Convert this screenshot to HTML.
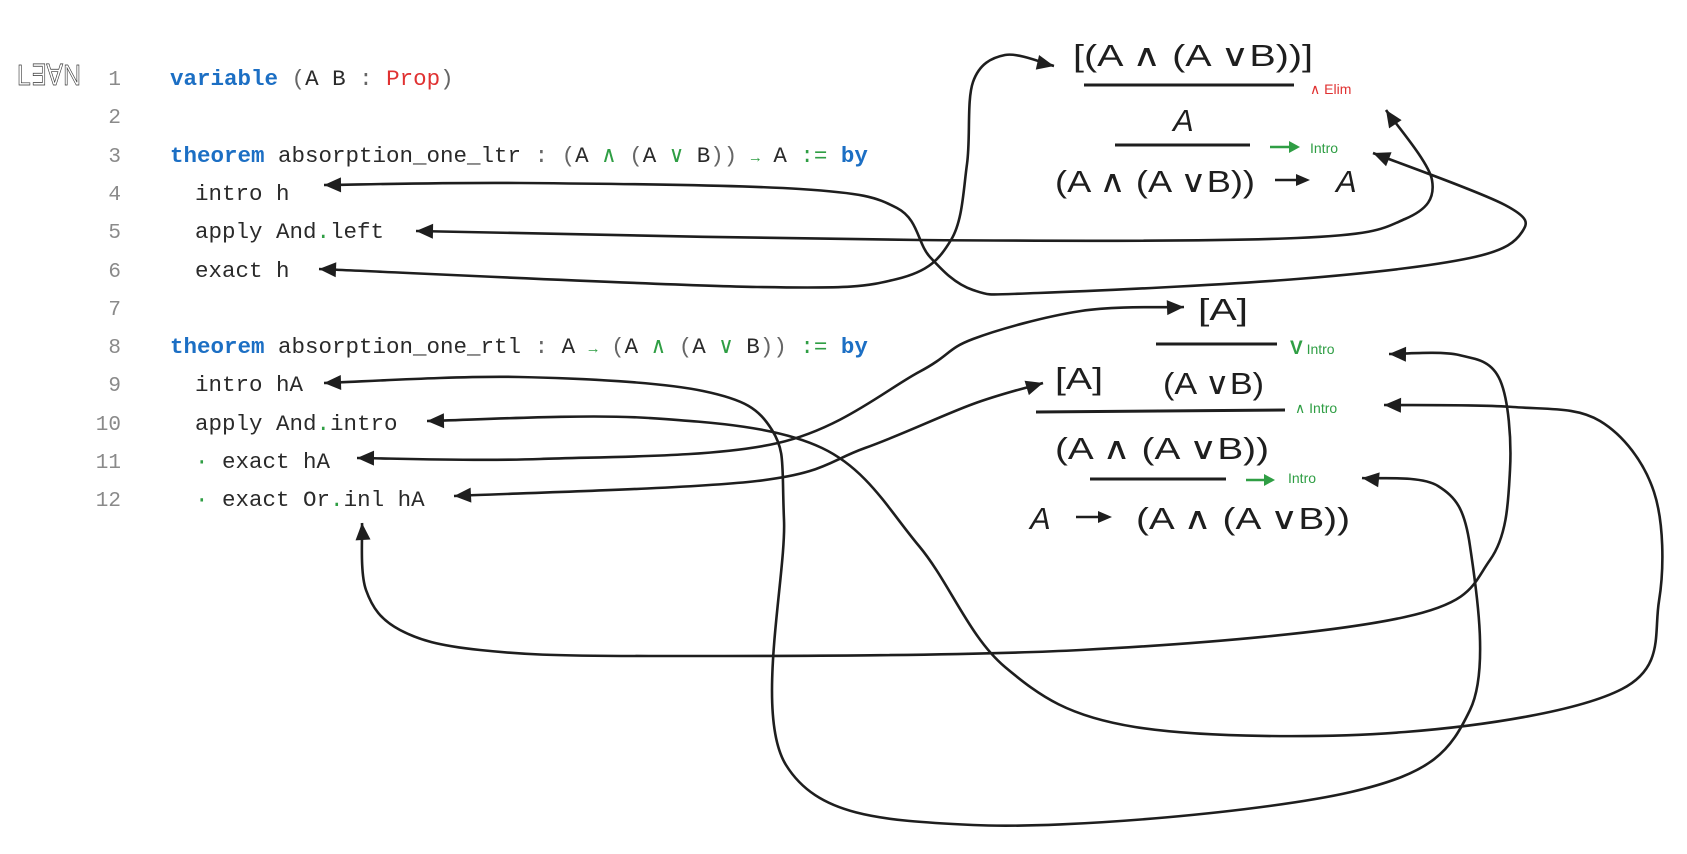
<!DOCTYPE html>
<html><head><meta charset="utf-8"><style>
html,body{margin:0;padding:0;background:#fff;}
svg{display:block;}
.code{font-family:"Liberation Mono",monospace;font-size:22.5px;fill:#2a2a2a;}
.ln{font-family:"Liberation Mono",monospace;font-size:21px;fill:#8a8a8a;}
.kw{fill:#1c6fc4;font-weight:bold;}
.g{fill:#2f9e44;}
.r{fill:#e03131;}
.p{fill:#666;}
.m{font-family:"Liberation Sans","DejaVu Sans",sans-serif;font-size:31px;fill:#1e1e1e;}
.sg{font-family:"Liberation Sans",sans-serif;font-size:14px;fill:#2f9e44;}
.sr{font-family:"Liberation Sans",sans-serif;font-size:14px;fill:#e03131;}
</style></head><body>
<svg id="s" width="1687" height="854" viewBox="0 0 1687 854" xmlns="http://www.w3.org/2000/svg">
<!-- logo -->
<text x="17" y="85" font-family="Liberation Sans,sans-serif" font-size="29" fill="none" stroke="#333" stroke-width="0.7" textLength="64" lengthAdjust="spacingAndGlyphs">L∃∀N</text>
<!-- line numbers -->
<g class="ln" text-anchor="end">
<text x="121" y="85">1</text><text x="121" y="123">2</text><text x="121" y="162">3</text><text x="121" y="200">4</text>
<text x="121" y="238">5</text><text x="121" y="277">6</text><text x="121" y="315">7</text><text x="121" y="353">8</text>
<text x="121" y="391">9</text><text x="121" y="430">10</text><text x="121" y="468">11</text><text x="121" y="506">12</text>
</g>
<g class="code" xml:space="preserve">
<text x="170" y="85"><tspan class="kw">variable</tspan> <tspan class="p">(</tspan>A B <tspan class="p">:</tspan> <tspan class="r">Prop</tspan><tspan class="p">)</tspan></text>
<text x="170" y="162"><tspan class="kw">theorem</tspan> absorption_one_ltr <tspan class="p">:</tspan> <tspan class="p">(</tspan>A <tspan class="g">∧</tspan> <tspan class="p">(</tspan>A <tspan class="g">∨</tspan> B<tspan class="p">))</tspan> <tspan class="g" font-size="15">→</tspan> A <tspan class="g">:=</tspan> <tspan class="kw">by</tspan></text>
<text x="195" y="200">intro h</text>
<text x="195" y="238">apply And<tspan class="g">.</tspan>left</text>
<text x="195" y="277">exact h</text>
<text x="170" y="353"><tspan class="kw">theorem</tspan> absorption_one_rtl <tspan class="p">:</tspan> A <tspan class="g" font-size="15">→</tspan> <tspan class="p">(</tspan>A <tspan class="g">∧</tspan> <tspan class="p">(</tspan>A <tspan class="g">∨</tspan> B<tspan class="p">))</tspan> <tspan class="g">:=</tspan> <tspan class="kw">by</tspan></text>
<text x="195" y="391">intro hA</text>
<text x="195" y="430">apply And<tspan class="g">.</tspan>intro</text>
<text x="195" y="468"><tspan class="g">·</tspan> exact hA</text>
<text x="195" y="506"><tspan class="g">·</tspan> exact Or<tspan class="g">.</tspan>inl hA</text>
</g>
<!-- proof tree -->
<g class="m">
<text x="1073" y="66" textLength="240" lengthAdjust="spacingAndGlyphs">[(A ∧ (A ∨B))]</text>
<text x="1173" y="131" font-style="italic">A</text>
<text x="1055" y="192" textLength="200" lengthAdjust="spacingAndGlyphs">(A ∧ (A ∨B))</text>
<text x="1336" y="192" font-style="italic">A</text>
<text x="1198" y="320" textLength="50" lengthAdjust="spacingAndGlyphs">[A]</text>
<text x="1055" y="389" textLength="48" lengthAdjust="spacingAndGlyphs">[A]</text>
<text x="1163" y="394" textLength="101" lengthAdjust="spacingAndGlyphs">(A ∨B)</text>
<text x="1055" y="459" textLength="214" lengthAdjust="spacingAndGlyphs">(A ∧ (A ∨B))</text>
<text x="1030" y="529" font-style="italic">A</text>
<text x="1136" y="529" textLength="214" lengthAdjust="spacingAndGlyphs">(A ∧ (A ∨B))</text>
</g>
<g stroke="#1e1e1e" stroke-width="3" fill="none">
<line x1="1084" y1="85" x2="1294" y2="85"/>
<line x1="1115" y1="145" x2="1250" y2="145"/>
<line x1="1156" y1="344" x2="1277" y2="344"/>
<line x1="1036" y1="412" x2="1285" y2="410"/>
<line x1="1090" y1="479" x2="1226" y2="479"/>
<line x1="1275" y1="180" x2="1298" y2="180" stroke-width="2.5"/>
<line x1="1076" y1="517" x2="1100" y2="517" stroke-width="2.5"/>
</g>
<polygon points="1310,180 1296,174 1296,186" fill="#1e1e1e"/>
<polygon points="1112,517 1098,511 1098,523" fill="#1e1e1e"/>
<g stroke="#2f9e44" stroke-width="2.5"><line x1="1270" y1="147" x2="1290" y2="147"/><line x1="1246" y1="480" x2="1265" y2="480"/></g>
<polygon points="1300,147 1289,141 1289,153" fill="#2f9e44"/>
<polygon points="1275,480 1264,474 1264,486" fill="#2f9e44"/>
<text class="sr" x="1310" y="94">∧ Elim</text>
<text class="sg" x="1310" y="153">Intro</text>
<text class="sg" x="1290" y="354"><tspan font-size="19" font-weight="bold">V</tspan> Intro</text>
<text class="sg" x="1295" y="413">∧ Intro</text>
<text class="sg" x="1288" y="483">Intro</text>
<g id="conn" stroke="#1e1e1e" stroke-width="2.6" fill="none"></g>
<g id="heads" fill="#1e1e1e"></g>
</svg>
<script>
var P=[
[[324,185],[520,183],[800,189],[897,208],[930,257],[973,290],[1038,293],[1297,279],[1470,258],[1522,232],[1505,205],[1373,153]],
[[416,231],[919,240],[1297,238],[1405,219],[1432,180],[1386,110]],
[[319,269],[757,287],[897,279],[951,240],[967,164],[973,82],[1005,55],[1054,66]],
[[324,383],[519,377],[703,391],[772,430],[784,520],[786,765],[973,825],[1351,792],[1470,710],[1470,546],[1438,486],[1362,478]],
[[427,421],[649,418],[822,448],[919,546],[1005,667],[1135,727],[1405,732],[1622,689],[1659,601],[1654,492],[1600,421],[1513,407],[1384,405]],
[[357,458],[540,459],[778,443],[919,372],[973,339],[1081,311],[1184,307]],
[[454,496],[757,481],[865,448],[973,404],[1043,383]],
[[362,523],[366,590],[400,630],[480,650],[649,656],[1081,650],[1405,617],[1490,560],[1510,470],[1500,380],[1459,355],[1389,354]]
];
var NS="http://www.w3.org/2000/svg",g=document.getElementById('conn'),h=document.getElementById('heads');
function head(tip,from){var dx=tip[0]-from[0],dy=tip[1]-from[1],l=Math.hypot(dx,dy);dx/=l;dy/=l;var L=17,W=7.5;
var bx=tip[0]-dx*L,by=tip[1]-dy*L;var p=document.createElementNS(NS,'polygon');
p.setAttribute('points',tip[0]+','+tip[1]+' '+(bx-dy*W)+','+(by+dx*W)+' '+(bx+dy*W)+','+(by-dx*W));h.appendChild(p);}
P.forEach(function(pts,k){
var d='M'+pts[0][0]+','+pts[0][1];
for(var i=0;i<pts.length-1;i++){var p0=pts[i-1]||pts[i],p1=pts[i],p2=pts[i+1],p3=pts[i+2]||p2;
var c1=[p1[0]+(p2[0]-p0[0])/6,p1[1]+(p2[1]-p0[1])/6],c2=[p2[0]-(p3[0]-p1[0])/6,p2[1]-(p3[1]-p1[1])/6];
d+=' C'+c1[0]+','+c1[1]+' '+c2[0]+','+c2[1]+' '+p2[0]+','+p2[1];}
var e=document.createElementNS(NS,'path');e.setAttribute('d',d);g.appendChild(e);
var n=pts.length;
head(pts[0],pts[1]);head(pts[n-1],pts[n-2]);
});
</script>
</body></html>
